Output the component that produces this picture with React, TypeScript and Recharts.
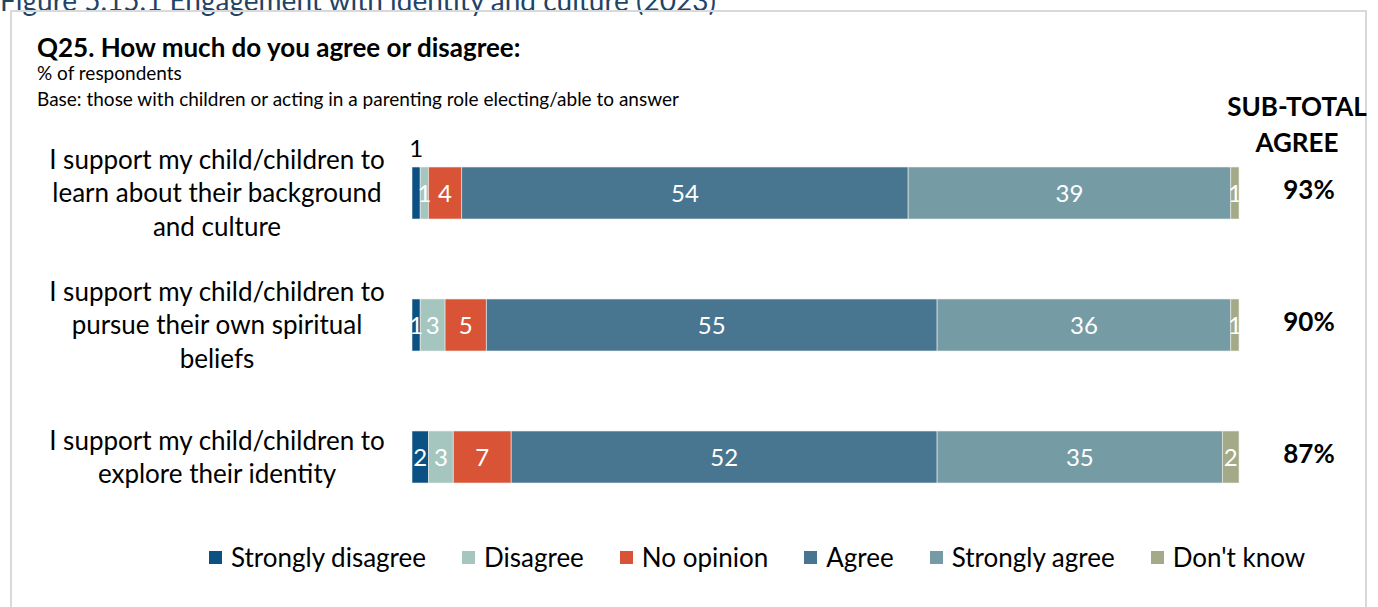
import React from "react";
import { BarChart, Bar, XAxis, YAxis, LabelList, Legend } from "recharts";

const categories = [
  ["I support my child/children to", "learn about their background", "and culture"],
  ["I support my child/children to", "pursue their own spiritual", "beliefs"],
  ["I support my child/children to", "explore their identity"],
];
const stronglyDisagree = [1, 1, 2];
const disagree = [1, 3, 3];
const noOpinion = [4, 5, 7];
const agree = [54, 54.5, 51.5];
const stronglyAgree = [39, 35.5, 34.5];
const dontKnow = [1, 1, 2];
const subTotalAgree = [93, 90, 87];

const series = [
  { key: "sd", name: "Strongly disagree", values: stronglyDisagree, color: "#0b5183" },
  { key: "d", name: "Disagree", values: disagree, color: "#a5c6be" },
  { key: "no", name: "No opinion", values: noOpinion, color: "#d95436" },
  { key: "a", name: "Agree", values: agree, color: "#48758f" },
  { key: "sa", name: "Strongly agree", values: stronglyAgree, color: "#759ba4" },
  { key: "dk", name: "Don't know", values: dontKnow, color: "#a3aa87" },
];

const data = categories.map((lines, i) => {
  const row: Record<string, any> = { cat: String(i), lines, subtotal: subTotalAgree[i] };
  series.forEach((s) => (row[s.key] = s.values[i]));
  return row;
});

const FONT = "Lato, 'Open Sans', sans-serif";

const CategoryTick = (props: any) => {
  const { x, y, payload } = props;
  const lines: string[] = data[Number(payload.value)].lines;
  const lh = 33.5;
  const startY = y - ((lines.length - 1) * lh) / 2;
  return (
    <text x={x - 187} y={startY} textAnchor="middle" fontSize={26} fill="#000" fontFamily={FONT}>
      {lines.map((l, i) => (
        <tspan key={i} x={x - 187} y={startY + i * lh} dy="0.36em">
          {l}
        </tspan>
      ))}
    </text>
  );
};

const segLabel = (outsideFirst: boolean) => (props: any) => {
  const { x, y, width, height, value, index } = props;
  if (value == null) return null;
  const cx = x + width / 2;
  if (outsideFirst && index === 0) {
    return (
      <text x={cx} y={y - 19} dy="0.36em" textAnchor="middle" fontSize={24} fill="#000" fontFamily={FONT}>
        {Math.round(value)}
      </text>
    );
  }
  return (
    <text x={cx} y={y + height / 2} dy="0.36em" textAnchor="middle" fontSize={24} fill="#fff" fontFamily={FONT}>
      {Math.round(value)}
    </text>
  );
};

const subtotalLabel = (props: any) => {
  const { x, y, width, height, value } = props;
  return (
    <text x={x + width + 70} y={y + height / 2 - 3} dy="0.36em" textAnchor="middle" fontSize={26} fontWeight={700} fill="#000" fontFamily={FONT}>
      {value}%
    </text>
  );
};

const LegendContent = () => (
  <div style={{ display: "flex", alignItems: "center", paddingLeft: 209, fontFamily: FONT, fontSize: 26, lineHeight: "30px", color: "#000" }}>
    {series.map((s) => (
      <div key={s.key} style={{ display: "flex", alignItems: "center", marginRight: 36 }}>
        <span style={{ display: "inline-block", width: 13, height: 13, background: s.color, marginRight: 9 }} />
        <span>{s.name}</span>
      </div>
    ))}
  </div>
);

export default function App() {
  return (
    <div style={{ position: "fixed", left: 0, top: 0, width: 1378, height: 607, overflow: "hidden", background: "#fff", fontFamily: FONT }}>
      <div style={{ position: "absolute", left: 0, top: -17, fontSize: 28, color: "#1f4466", whiteSpace: "nowrap" }}>
        Figure 5.15.1 Engagement with identity and culture (2023)
      </div>
      <div style={{ position: "absolute", left: 10, top: 10, width: 1353, height: 640, border: "2px solid #d9d9d9" }} />
      <div style={{ position: "absolute", left: 37, top: 34, fontSize: 26, lineHeight: "27px", fontWeight: 700, color: "#000" }}>
        Q25. How much do you agree or disagree:
      </div>
      <div style={{ position: "absolute", left: 37, top: 63, fontSize: 19, lineHeight: "20px", color: "#000" }}>% of respondents</div>
      <div style={{ position: "absolute", left: 37, top: 89, fontSize: 19, lineHeight: "20px", color: "#000" }}>
        Base: those with children or acting in a parenting role electing/able to answer
      </div>
      <div style={{ position: "absolute", left: 1217, top: 88, width: 160, textAlign: "center", fontSize: 26, fontWeight: 700, lineHeight: "36px", color: "#000" }}>
        SUB-TOTAL
        <br />
        AGREE
      </div>
      <div style={{ position: "absolute", left: 0, top: 0 }}>
        <BarChart
          width={1378}
          height={607}
          data={data}
          layout="vertical"
          barSize={52}
          margin={{ top: 127, right: 139, bottom: 54, left: 12 }}
        >
          <XAxis type="number" domain={[0, 100]} hide />
          <YAxis type="category" dataKey="cat" width={400} axisLine={false} tickLine={false} tick={<CategoryTick />} />
          {series.map((s, i) => (
            <Bar key={s.key} dataKey={s.key} name={s.name} stackId="x" fill={s.color} stroke="#eeeeee" strokeWidth={0.6} isAnimationActive={false}>
              <LabelList dataKey={s.key} content={segLabel(i === 0)} />
              {s.key === "dk" && <LabelList dataKey="subtotal" content={subtotalLabel} />}
            </Bar>
          ))}
          <Legend content={<LegendContent />} wrapperStyle={{ top: 542, left: 0, width: 1378 }} />
        </BarChart>
      </div>
    </div>
  );
}
